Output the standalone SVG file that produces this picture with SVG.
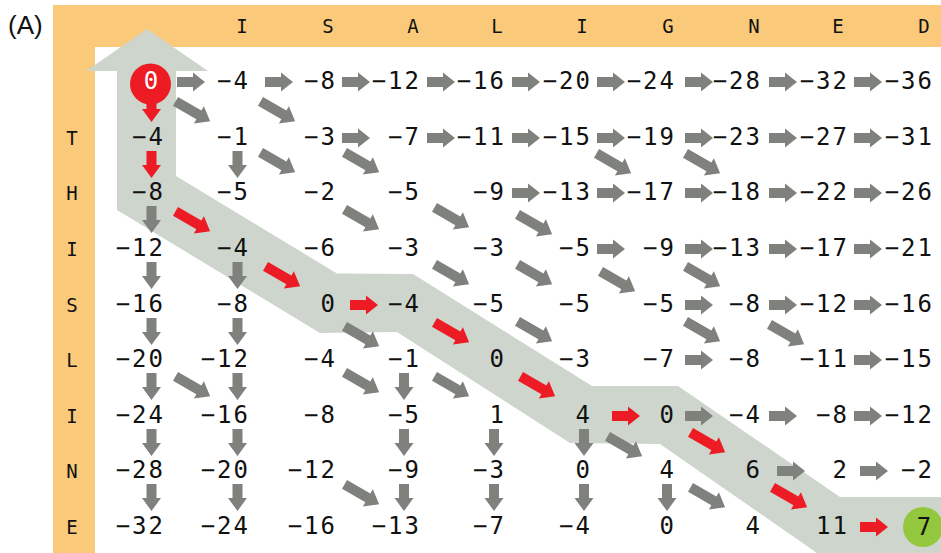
<svg xmlns="http://www.w3.org/2000/svg" xmlns:xlink="http://www.w3.org/1999/xlink" width="941" height="553" viewBox="0 0 941 553">
<style>
.o{fill:#FAC97A}
.band{fill:#CDD5CC}
.g{fill:#7F817D}
.r{fill:#ED1C24}
.n{font-family:"DejaVu Sans Mono",monospace;font-size:24px;letter-spacing:2px;text-anchor:end;fill:#111}
.l{font-family:"DejaVu Sans Mono",monospace;font-size:19px;text-anchor:middle;fill:#111}
.c{font-family:"DejaVu Sans Mono",monospace;font-size:24px;text-anchor:middle}
</style>
<defs>
<path id="ah" d="M0,-5 H16 V-9.5 L28,0 L16,9.5 V5 H0 Z"/>
<path id="av" d="M-5,0 V14 H-9.5 L0,27 L9.5,14 H5 V0 Z"/>
<path id="ad" d="M0,-5 H27 V-10 L40,0 L27,10 V5 H0 Z" transform="rotate(30)"/>
</defs>
<rect width="941" height="553" fill="#fff"/>
<path class="o" d="M53,5 H941 V47 H95 V553 H53 Z"/>
<text x="8" y="34" font-family="'Liberation Sans',Arial,sans-serif" font-size="26" fill="#111">(A)</text>
<g id="header">
<text class="l" x="242" y="33">I</text><text class="l" x="328" y="33">S</text><text class="l" x="413" y="33">A</text><text class="l" x="497" y="33">L</text><text class="l" x="582" y="33">I</text><text class="l" x="668" y="33">G</text><text class="l" x="754" y="33">N</text><text class="l" x="838" y="33">E</text><text class="l" x="924" y="33">D</text>
<text class="l" x="72" y="145">T</text><text class="l" x="72" y="200">H</text><text class="l" x="72" y="256">I</text><text class="l" x="72" y="312">S</text><text class="l" x="72" y="367">L</text><text class="l" x="72" y="423">I</text><text class="l" x="72" y="478">N</text><text class="l" x="72" y="534">E</text>
</g>
<polygon class="band" points="147,29 208,71 176,71 176,176 337,273.5 413,274 592,386 678,386 840,497 941,497 941,553 817,553 660,444 570,443 397,332 320,333 117,210 117,71 86,71"/>
<g id="connectors">
<use href="#ah" class="g" x="177" y="82"/><use href="#ah" class="g" x="265" y="82"/><use href="#ah" class="g" x="342" y="82"/><use href="#ah" class="g" x="427" y="82"/><use href="#ah" class="g" x="512" y="82"/><use href="#ah" class="g" x="597" y="82"/><use href="#ah" class="g" x="685" y="82"/><use href="#ah" class="g" x="769" y="82"/><use href="#ah" class="g" x="854" y="82"/>
<use href="#ah" class="g" x="342" y="138"/><use href="#ah" class="g" x="427" y="138"/><use href="#ah" class="g" x="512" y="138"/><use href="#ah" class="g" x="597" y="138"/><use href="#ah" class="g" x="685" y="138"/><use href="#ah" class="g" x="769" y="138"/><use href="#ah" class="g" x="854" y="138"/>
<use href="#ah" class="g" x="512" y="193"/><use href="#ah" class="g" x="597" y="193"/><use href="#ah" class="g" x="685" y="193"/><use href="#ah" class="g" x="769" y="193"/><use href="#ah" class="g" x="854" y="193"/>
<use href="#ah" class="g" x="597" y="249"/><use href="#ah" class="g" x="685" y="249"/><use href="#ah" class="g" x="769" y="249"/><use href="#ah" class="g" x="854" y="249"/>
<use href="#ah" class="r" x="350" y="305"/><use href="#ah" class="g" x="685" y="305"/><use href="#ah" class="g" x="769" y="305"/><use href="#ah" class="g" x="854" y="305"/>
<use href="#ah" class="g" x="685" y="360"/><use href="#ah" class="g" x="854" y="360"/>
<use href="#ah" class="r" x="612" y="416"/><use href="#ah" class="g" x="685" y="416"/><use href="#ah" class="g" x="769" y="416"/><use href="#ah" class="g" x="854" y="416"/>
<use href="#ah" class="g" x="777" y="471"/><use href="#ah" class="g" x="860" y="471"/>
<use href="#ah" class="r" x="860" y="527"/>
<use href="#av" class="r" x="151.5" y="95"/><use href="#av" class="r" x="151.5" y="151"/>
<use href="#av" class="g" x="151.5" y="206"/><use href="#av" class="g" x="151.5" y="262"/><use href="#av" class="g" x="151.5" y="318"/><use href="#av" class="g" x="151.5" y="373"/><use href="#av" class="g" x="151.5" y="429"/><use href="#av" class="g" x="151.5" y="484"/>
<use href="#av" class="g" x="237.5" y="151"/><use href="#av" class="g" x="237.5" y="262"/><use href="#av" class="g" x="237.5" y="318"/><use href="#av" class="g" x="237.5" y="373"/><use href="#av" class="g" x="237.5" y="429"/><use href="#av" class="g" x="237.5" y="484"/>
<use href="#av" class="g" x="404" y="373"/><use href="#av" class="g" x="404" y="429"/><use href="#av" class="g" x="404" y="484"/>
<use href="#av" class="g" x="494" y="429"/><use href="#av" class="g" x="494" y="484"/>
<use href="#av" class="g" x="584" y="429"/><use href="#av" class="g" x="584" y="484"/>
<use href="#av" class="g" x="667" y="484"/>
<use href="#ad" class="g" transform="translate(175.5,101.3)"/>
<use href="#ad" class="g" transform="translate(260.5,101.3)"/>
<use href="#ad" class="g" transform="translate(260.5,152.3)"/>
<use href="#ad" class="g" transform="translate(344.5,152.3)"/>
<use href="#ad" class="g" transform="translate(596.5,153.3)"/>
<use href="#ad" class="g" transform="translate(685.5,153.3)"/>
<use href="#ad" class="r" transform="translate(175.5,211.3)"/>
<use href="#ad" class="g" transform="translate(344.5,209.3)"/>
<use href="#ad" class="g" transform="translate(434.5,207.3)"/>
<use href="#ad" class="g" transform="translate(517.5,214.3)"/>
<use href="#ad" class="r" transform="translate(265.5,266.3)"/>
<use href="#ad" class="g" transform="translate(434.5,264.3)"/>
<use href="#ad" class="g" transform="translate(517.5,264.3)"/>
<use href="#ad" class="g" transform="translate(600.5,271.3)"/>
<use href="#ad" class="g" transform="translate(685.5,266.3)"/>
<use href="#ad" class="g" transform="translate(344.5,326.3)"/>
<use href="#ad" class="r" transform="translate(434.5,322.3)"/>
<use href="#ad" class="g" transform="translate(517.5,321.3)"/>
<use href="#ad" class="g" transform="translate(685.5,321.3)"/>
<use href="#ad" class="g" transform="translate(769.5,324.3)"/>
<use href="#ad" class="g" transform="translate(175.5,376.3)"/>
<use href="#ad" class="g" transform="translate(344.5,372.3)"/>
<use href="#ad" class="g" transform="translate(434.5,376.3)"/>
<use href="#ad" class="r" transform="translate(520.5,376.3)"/>
<use href="#ad" class="g" transform="translate(607.5,436.3)"/>
<use href="#ad" class="r" transform="translate(690.5,432.3)"/>
<use href="#ad" class="g" transform="translate(344.5,484.3)"/>
<use href="#ad" class="g" transform="translate(690.5,487.3)"/>
<use href="#ad" class="r" transform="translate(772.5,487.3)"/>
</g>
<g id="n0-0"><circle cx="150.5" cy="84" r="20.5" fill="#ED1C24"/><text class="c" x="151" y="89" fill="#fff">0</text></g>
<g id="n8-9"><circle cx="923" cy="527" r="20" fill="#93C83E"/><text class="c" x="924" y="535" fill="#111">7</text></g>
<g id="row0"><g id="n0-1"><text class="n" x="250" y="89">−4</text></g><g id="n0-2"><text class="n" x="337" y="89">−8</text></g><g id="n0-3"><text class="n" x="421" y="89">−12</text></g><g id="n0-4"><text class="n" x="506" y="89">−16</text></g><g id="n0-5"><text class="n" x="592" y="89">−20</text></g><g id="n0-6"><text class="n" x="676" y="89">−24</text></g><g id="n0-7"><text class="n" x="762" y="89">−28</text></g><g id="n0-8"><text class="n" x="849" y="89">−32</text></g><g id="n0-9"><text class="n" x="934" y="89">−36</text></g></g>
<g id="row1"><g id="n1-0"><text class="n" x="165" y="145">−4</text></g><g id="n1-1"><text class="n" x="250" y="145">−1</text></g><g id="n1-2"><text class="n" x="337" y="145">−3</text></g><g id="n1-3"><text class="n" x="421" y="145">−7</text></g><g id="n1-4"><text class="n" x="506" y="145">−11</text></g><g id="n1-5"><text class="n" x="592" y="145">−15</text></g><g id="n1-6"><text class="n" x="676" y="145">−19</text></g><g id="n1-7"><text class="n" x="762" y="145">−23</text></g><g id="n1-8"><text class="n" x="849" y="145">−27</text></g><g id="n1-9"><text class="n" x="934" y="145">−31</text></g></g>
<g id="row2"><g id="n2-0"><text class="n" x="165" y="200">−8</text></g><g id="n2-1"><text class="n" x="250" y="200">−5</text></g><g id="n2-2"><text class="n" x="337" y="200">−2</text></g><g id="n2-3"><text class="n" x="421" y="200">−5</text></g><g id="n2-4"><text class="n" x="506" y="200">−9</text></g><g id="n2-5"><text class="n" x="592" y="200">−13</text></g><g id="n2-6"><text class="n" x="676" y="200">−17</text></g><g id="n2-7"><text class="n" x="762" y="200">−18</text></g><g id="n2-8"><text class="n" x="849" y="200">−22</text></g><g id="n2-9"><text class="n" x="934" y="200">−26</text></g></g>
<g id="row3"><g id="n3-0"><text class="n" x="165" y="256">−12</text></g><g id="n3-1"><text class="n" x="250" y="256">−4</text></g><g id="n3-2"><text class="n" x="337" y="256">−6</text></g><g id="n3-3"><text class="n" x="421" y="256">−3</text></g><g id="n3-4"><text class="n" x="506" y="256">−3</text></g><g id="n3-5"><text class="n" x="592" y="256">−5</text></g><g id="n3-6"><text class="n" x="676" y="256">−9</text></g><g id="n3-7"><text class="n" x="762" y="256">−13</text></g><g id="n3-8"><text class="n" x="849" y="256">−17</text></g><g id="n3-9"><text class="n" x="934" y="256">−21</text></g></g>
<g id="row4"><g id="n4-0"><text class="n" x="165" y="312">−16</text></g><g id="n4-1"><text class="n" x="250" y="312">−8</text></g><g id="n4-2"><text class="n" x="337" y="312">0</text></g><g id="n4-3"><text class="n" x="421" y="312">−4</text></g><g id="n4-4"><text class="n" x="506" y="312">−5</text></g><g id="n4-5"><text class="n" x="592" y="312">−5</text></g><g id="n4-6"><text class="n" x="676" y="312">−5</text></g><g id="n4-7"><text class="n" x="762" y="312">−8</text></g><g id="n4-8"><text class="n" x="849" y="312">−12</text></g><g id="n4-9"><text class="n" x="934" y="312">−16</text></g></g>
<g id="row5"><g id="n5-0"><text class="n" x="165" y="367">−20</text></g><g id="n5-1"><text class="n" x="250" y="367">−12</text></g><g id="n5-2"><text class="n" x="337" y="367">−4</text></g><g id="n5-3"><text class="n" x="421" y="367">−1</text></g><g id="n5-4"><text class="n" x="506" y="367">0</text></g><g id="n5-5"><text class="n" x="592" y="367">−3</text></g><g id="n5-6"><text class="n" x="676" y="367">−7</text></g><g id="n5-7"><text class="n" x="762" y="367">−8</text></g><g id="n5-8"><text class="n" x="849" y="367">−11</text></g><g id="n5-9"><text class="n" x="934" y="367">−15</text></g></g>
<g id="row6"><g id="n6-0"><text class="n" x="165" y="423">−24</text></g><g id="n6-1"><text class="n" x="250" y="423">−16</text></g><g id="n6-2"><text class="n" x="337" y="423">−8</text></g><g id="n6-3"><text class="n" x="421" y="423">−5</text></g><g id="n6-4"><text class="n" x="506" y="423">1</text></g><g id="n6-5"><text class="n" x="592" y="423">4</text></g><g id="n6-6"><text class="n" x="676" y="423">0</text></g><g id="n6-7"><text class="n" x="762" y="423">−4</text></g><g id="n6-8"><text class="n" x="849" y="423">−8</text></g><g id="n6-9"><text class="n" x="934" y="423">−12</text></g></g>
<g id="row7"><g id="n7-0"><text class="n" x="165" y="478">−28</text></g><g id="n7-1"><text class="n" x="250" y="478">−20</text></g><g id="n7-2"><text class="n" x="337" y="478">−12</text></g><g id="n7-3"><text class="n" x="421" y="478">−9</text></g><g id="n7-4"><text class="n" x="506" y="478">−3</text></g><g id="n7-5"><text class="n" x="592" y="478">0</text></g><g id="n7-6"><text class="n" x="676" y="478">4</text></g><g id="n7-7"><text class="n" x="762" y="478">6</text></g><g id="n7-8"><text class="n" x="849" y="478">2</text></g><g id="n7-9"><text class="n" x="934" y="478">−2</text></g></g>
<g id="row8"><g id="n8-0"><text class="n" x="165" y="534">−32</text></g><g id="n8-1"><text class="n" x="250" y="534">−24</text></g><g id="n8-2"><text class="n" x="337" y="534">−16</text></g><g id="n8-3"><text class="n" x="421" y="534">−13</text></g><g id="n8-4"><text class="n" x="506" y="534">−7</text></g><g id="n8-5"><text class="n" x="592" y="534">−4</text></g><g id="n8-6"><text class="n" x="676" y="534">0</text></g><g id="n8-7"><text class="n" x="762" y="534">4</text></g><g id="n8-8"><text class="n" x="849" y="534">11</text></g></g>
</svg>
